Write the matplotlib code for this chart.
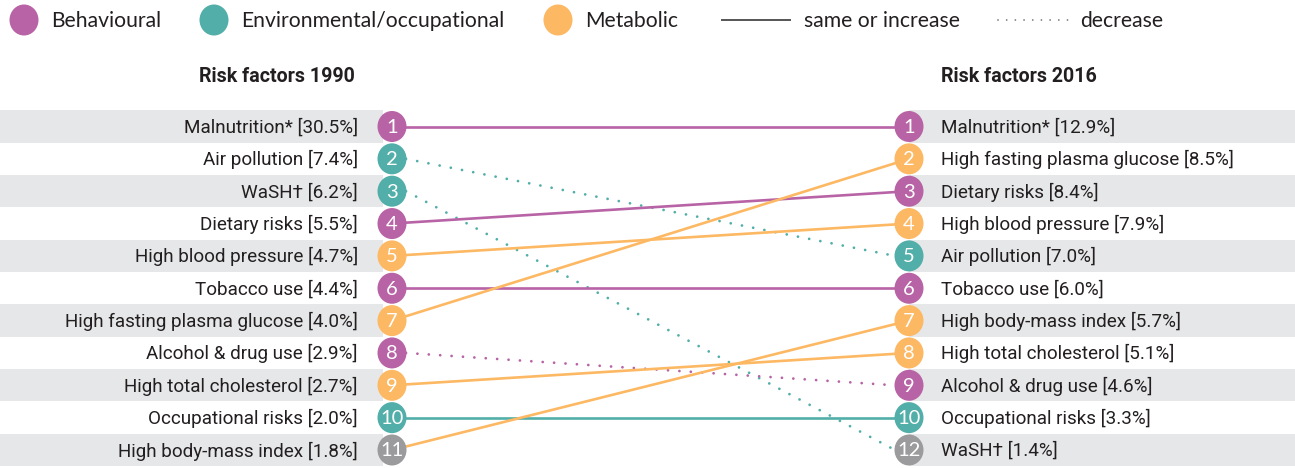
import matplotlib
matplotlib.use("Agg")
import matplotlib.pyplot as plt
from matplotlib.patches import Ellipse, Rectangle
from matplotlib.lines import Line2D

# Data: ranking of risk factors, 1990 vs 2016
left_names = ["Malnutrition*", "Air pollution", "WaSH\u2020", "Dietary risks",
              "High blood pressure", "Tobacco use", "High fasting plasma glucose",
              "Alcohol & drug use", "High total cholesterol", "Occupational risks",
              "High body-mass index"]
left_pcts = [30.5, 7.4, 6.2, 5.5, 4.7, 4.4, 4.0, 2.9, 2.7, 2.0, 1.8]
left_ranks = [1, 2, 3, 4, 5, 6, 7, 8, 9, 10, 11]

right_names = ["Malnutrition*", "High fasting plasma glucose", "Dietary risks",
               "High blood pressure", "Air pollution", "Tobacco use",
               "High body-mass index", "High total cholesterol", "Alcohol & drug use",
               "Occupational risks", "WaSH\u2020"]
right_pcts = [12.9, 8.5, 8.4, 7.9, 7.0, 6.0, 5.7, 5.1, 4.6, 3.3, 1.4]
right_ranks = [1, 2, 3, 4, 5, 6, 7, 8, 9, 10, 12]

category = {
    "Malnutrition*": "Behavioural", "Dietary risks": "Behavioural",
    "Tobacco use": "Behavioural", "Alcohol & drug use": "Behavioural",
    "Air pollution": "Environmental/occupational", "WaSH\u2020": "Environmental/occupational",
    "Occupational risks": "Environmental/occupational",
    "High blood pressure": "Metabolic", "High fasting plasma glucose": "Metabolic",
    "High total cholesterol": "Metabolic", "High body-mass index": "Metabolic",
}
cat_names = ["Behavioural", "Environmental/occupational", "Metabolic"]
cat_colors = {"Behavioural": "#B863A5", "Environmental/occupational": "#52AEA8",
              "Metabolic": "#FDB863"}
gray_circle = "#9B9B9D"
band_color = "#E6E7E8"
text_color = "#231F20"

label_font = ["Roboto", "DejaVu Sans"]
plain_font = ["Lato", "DejaVu Sans"]

fig = plt.figure(figsize=(12.95, 4.68), dpi=100)
ax = fig.add_axes([0, 0, 1, 1])
ax.set_xlim(0, 1295)
ax.set_ylim(468, 0)
ax.axis("off")

row_y0, row_h = 126.5, 32.35
x_left, x_right = 392, 909
rw, rh = 29, 31

def row_y(i):
    return row_y0 + i * row_h

# gray bands on alternate rows
for i in range(0, len(left_names), 2):
    ax.add_patch(Rectangle((0, row_y(i) - row_h / 2), x_left - 9, row_h,
                           color=band_color, lw=0, zorder=0))
    ax.add_patch(Rectangle((x_right, row_y(i) - row_h / 2), 1295 - x_right, row_h,
                           color=band_color, lw=0, zorder=0))

# connecting lines
for i, name in enumerate(left_names):
    j = right_names.index(name)
    col = cat_colors[category[name]]
    if right_ranks[j] <= left_ranks[i]:
        ax.plot([x_left, x_right], [row_y(i), row_y(j)], color=col, lw=1.9,
                solid_capstyle="butt", zorder=1)
    else:
        ax.plot([x_left + 14, x_right - 14], [row_y(i), row_y(j)], color=col, lw=2.0,
                linestyle=(0, (0.01, 4.1)), dash_capstyle="round", zorder=1)

def circle(x, y, rank, name):
    col = cat_colors[category[name]] if rank <= 10 else gray_circle
    ax.add_patch(Ellipse((x, y), rw, rh, color=col, lw=0, zorder=3))
    ax.text(x, y + 1, str(rank), color="white", fontsize=14.5, family=plain_font,
            ha="center", va="center", zorder=4)

for i, name in enumerate(left_names):
    circle(x_left, row_y(i), left_ranks[i], name)
    ax.text(358, row_y(i) + 1, f"{name} [{left_pcts[i]:.1f}%]", ha="right", va="center",
            fontsize=13.6, family=label_font, color=text_color, zorder=2)

for j, name in enumerate(right_names):
    circle(x_right, row_y(j), right_ranks[j], name)
    ax.text(941, row_y(j) + 1, f"{name} [{right_pcts[j]:.1f}%]", ha="left", va="center",
            fontsize=13.6, family=label_font, color=text_color, zorder=2)

# column titles
ax.text(355, 77, "Risk factors 1990", ha="right", va="center", fontsize=14.1,
        fontweight="bold", family=label_font, color=text_color)
ax.text(941, 77, "Risk factors 2016", ha="left", va="center", fontsize=14.1,
        fontweight="bold", family=label_font, color=text_color)

# legend
leg_x = [24, 214, 558]
for x, c in zip(leg_x, cat_names):
    ax.add_patch(Ellipse((x, 20), 29, 31, color=cat_colors[c], lw=0))
    ax.text(x + 27, 21, c, ha="left", va="center", fontsize=15.2, family=plain_font,
            color=text_color)
ax.add_line(Line2D([722, 790], [20, 20], color="#555555", lw=1.4))
ax.text(804, 21, "same or increase", ha="left", va="center", fontsize=15.2,
        family=plain_font, color=text_color)
ax.add_line(Line2D([998, 1068], [20, 20], color="#777777", lw=1.3,
                   linestyle=(0, (0.01, 4.8)), dash_capstyle="round"))
ax.text(1080, 21, "decrease", ha="left", va="center", fontsize=15.2,
        family=plain_font, color=text_color)

fig.savefig("out.png", dpi=100)
